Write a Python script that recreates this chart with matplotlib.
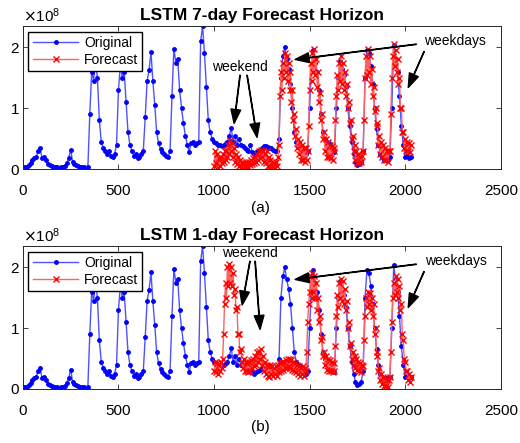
import matplotlib
matplotlib.use("Agg")
import matplotlib.pyplot as plt
import numpy as np
from matplotlib.ticker import ScalarFormatter

plt.rcParams['font.family'] = ['Liberation Sans', 'DejaVu Sans']

# sample spacing of the values below (x units)
orig_step = 10
fc_step = 5

# original traffic, x = 0, 10, ..., 2030  (units of 1e8)
original = [
    0.03, 0.04, 0.03, 0.06, 0.10, 0.15, 0.18, 0.20, 0.30, 0.35,
    0.18, 0.20, 0.15, 0.08, 0.06, 0.05, 0.04, 0.03, 0.03, 0.02,
    0.03, 0.04, 0.05, 0.10, 0.18, 0.32, 0.12, 0.08, 0.06, 0.05,
    0.04, 0.04, 0.03, 0.02, 0.03,
    # 350 - 490
    0.90, 1.60, 1.45, 1.75, 1.50, 0.80, 0.45, 0.35, 0.30, 0.25,
    0.30, 0.22, 0.20, 0.25, 0.40,
    # 500 - 630
    1.30, 1.70, 1.50, 1.60, 1.10, 0.60, 0.40, 0.30, 0.22, 0.25,
    0.18, 0.20, 0.25, 0.30,
    # 640 - 770
    0.85, 1.45, 1.62, 1.92, 1.45, 1.05, 0.60, 0.42, 0.33, 0.28,
    0.25, 0.22, 0.20, 0.30,
    # 780 - 920
    1.20, 1.98, 1.75, 1.80, 1.30, 1.00, 0.75, 0.55, 0.40, 0.28,
    0.42, 0.45, 0.40, 0.42, 0.45,
    # 930 - 1340
    2.10, 2.35, 1.90, 1.35, 0.80, 0.60, 0.50,
    0.45, 0.42, 0.40, 0.40, 0.38, 0.40, 0.42, 0.45, 0.55, 0.67,
    0.45, 0.55, 0.40, 0.50, 0.40, 0.38, 0.35, 0.32, 0.30, 0.40,
    0.28, 0.25, 0.28, 0.30, 0.32, 0.35, 0.38, 0.38, 0.36, 0.35,
    0.35, 0.32, 0.30, 0.30, 0.50,
    # 1350 - 1490
    1.50, 1.85, 2.00, 1.80, 1.65, 1.40, 1.00, 0.60, 0.45, 0.40,
    0.38, 0.35, 0.30, 0.25, 0.30,
    # 1500 - 1630
    1.00, 1.70, 1.95, 1.75, 1.60, 1.30, 0.90, 0.60, 0.50, 0.45,
    0.42, 0.38, 0.30, 0.28,
    # 1640 - 1780
    1.00, 1.50, 1.78, 1.65, 1.55, 1.35, 1.00, 0.70, 0.45, 0.25,
    0.12, 0.07, 0.08, 0.12, 0.30,
    # 1790 - 1920
    1.50, 1.95, 1.90, 1.70, 1.40, 1.00, 0.65, 0.40, 0.25, 0.20,
    0.15, 0.18, 0.15, 0.20,
    # 1930 - 2030
    1.00, 2.03, 1.80, 1.60, 1.20, 0.70, 0.40, 0.20, 0.22, 0.18, 0.20,
]

forecast_start = 1000

# 7-day horizon forecast, x = 1000, 1005, ..., 2030
forecast_7day = [
    # 1000 - 1335
    0.05, 0.30, 0.10, 0.25, 0.02, 0.18, 0.05, 0.20, 0.10, 0.25,
    0.12, 0.30, 0.15, 0.32, 0.20, 0.40, 0.25, 0.48, 0.30, 0.42,
    0.20, 0.35, 0.12, 0.25, 0.08, 0.20, 0.05, 0.15, 0.03, 0.12,
    0.02, 0.10, 0.03, 0.12, 0.05, 0.10, 0.04, 0.12, 0.06, 0.15,
    0.08, 0.18, 0.10, 0.20, 0.12, 0.25, 0.15, 0.30, 0.18, 0.32,
    0.20, 0.30, 0.12, 0.25, 0.10, 0.30, 0.05, 0.20, 0.03, 0.15,
    0.02, 0.12, 0.03, 0.10, 0.02, 0.12, 0.05, 0.20,
    # 1340 - 1495
    0.40, 1.20, 1.60, 1.30, 1.75, 1.50, 1.90, 1.60, 1.85, 1.45,
    1.75, 1.30, 1.60, 1.10, 1.30, 0.80, 0.90, 0.55, 0.65, 0.35,
    0.50, 0.25, 0.45, 0.15, 0.40, 0.15, 0.35, 0.12, 0.35, 0.15,
    0.30, 0.70,
    # 1500 - 1635
    1.30, 1.75, 1.45, 1.90, 1.60, 1.97, 1.55, 1.80, 1.35, 1.60,
    1.10, 1.25, 0.80, 0.90, 0.50, 0.60, 0.30, 0.50, 0.20, 0.45,
    0.20, 0.40, 0.18, 0.38, 0.15, 0.35, 0.30, 0.80,
    # 1640 - 1785
    1.20, 1.55, 1.30, 1.75, 1.45, 1.85, 1.40, 1.75, 1.30, 1.60,
    1.20, 1.40, 1.00, 1.10, 0.75, 0.80, 0.50, 0.55, 0.30, 0.40,
    0.15, 0.30, 0.10, 0.25, 0.10, 0.20, 0.12, 0.22, 0.30, 0.80,
    # 1790 - 1925
    1.50, 1.85, 1.55, 1.98, 1.60, 1.85, 1.40, 1.65, 1.20, 1.35,
    0.95, 1.00, 0.70, 0.75, 0.40, 0.55, 0.25, 0.45, 0.20, 0.40,
    0.15, 0.35, 0.15, 0.30, 0.12, 0.30, 0.30, 0.90,
    # 1930 - 2030
    1.50, 1.85, 2.05, 1.70, 1.95, 1.60, 1.80, 1.40, 1.50, 1.00,
    1.00, 0.60, 0.60, 0.35, 0.50, 0.30, 0.45, 0.30, 0.42, 0.28,
    0.40,
]

# 1-day horizon forecast, x = 1000, 1005, ..., 2030
forecast_1day = [
    # 1000 - 1340
    0.30, 0.45, 0.28, 0.42, 0.25, 0.40, 0.30, 0.45, 0.35, 0.50,
    0.90, 1.40, 1.75, 1.50, 2.00, 1.70, 2.05, 1.75, 2.00, 1.70,
    1.90, 1.55, 1.65, 1.30, 1.35, 0.90, 0.90, 0.60, 0.65, 0.45,
    0.35, 0.50, 0.30, 0.45, 0.30, 0.42, 0.28, 0.45, 0.30, 0.48,
    0.35, 0.50, 0.38, 0.55, 0.40, 0.60, 0.45, 0.62, 0.50, 0.65,
    0.40, 0.55, 0.30, 0.45, 0.25, 0.40, 0.22, 0.38, 0.20, 0.40,
    0.25, 0.38, 0.22, 0.35, 0.25, 0.38, 0.22, 0.40, 0.28,
    # 1345 - 1495
    0.42, 0.30, 0.45, 0.32, 0.45, 0.35, 0.48, 0.35, 0.50, 0.38,
    0.50, 0.35, 0.48, 0.32, 0.45, 0.30, 0.42, 0.28, 0.40, 0.25,
    0.38, 0.22, 0.35, 0.25, 0.38, 0.22, 0.35, 0.30, 0.60, 1.10,
    1.40,
    # 1500 - 1635
    1.60, 1.85, 1.50, 1.90, 1.60, 1.85, 1.50, 1.75, 1.30, 1.50,
    1.10, 1.20, 0.80, 0.85, 0.55, 0.60, 0.40, 0.55, 0.32, 0.50,
    0.30, 0.48, 0.30, 0.45, 0.28, 0.42, 0.30, 0.70,
    # 1640 - 1785
    1.20, 1.55, 1.35, 1.75, 1.50, 1.80, 1.45, 1.78, 1.40, 1.65,
    1.30, 1.45, 1.00, 1.10, 0.70, 0.75, 0.50, 0.60, 0.40, 0.55,
    0.35, 0.50, 0.32, 0.45, 0.30, 0.42, 0.28, 0.40, 0.38, 0.80,
    # 1790 - 1925
    1.20, 1.50, 1.35, 1.60, 1.40, 1.58, 1.30, 1.50, 1.20, 1.40,
    0.90, 1.00, 0.55, 0.60, 0.30, 0.35, 0.15, 0.25, 0.08, 0.20,
    0.05, 0.18, 0.05, 0.15, 0.03, 0.15, 0.20, 0.60,
    # 1930 - 2030
    1.10, 1.50, 1.75, 1.55, 1.85, 1.60, 1.80, 1.50, 1.70, 1.30,
    1.40, 0.90, 0.80, 0.50, 0.45, 0.30, 0.30, 0.15, 0.25, 0.12,
    0.20,
]

titles = ['LSTM 7-day Forecast Horizon', 'LSTM 1-day Forecast Horizon']
panel_labels = ['(a)', '(b)']
x_ticks = [0, 500, 1000, 1500, 2000, 2500]
y_ticks = [0, 1e8, 2e8]

x_orig = np.arange(len(original)) * orig_step
y_orig = np.array(original) * 1e8

fig = plt.figure(figsize=(5.2, 4.43), dpi=100)
ax_top = fig.add_axes([0.044, 0.6185, 0.919, 0.3228])
ax_bot = fig.add_axes([0.044, 0.1219, 0.919, 0.3228])

axc = '#262626'
for ax, fc, title in zip([ax_top, ax_bot], [forecast_7day, forecast_1day], titles):
    x_fc = forecast_start + np.arange(len(fc)) * fc_step
    ax.plot(x_orig, y_orig, '-', color='#5050ff', lw=1.0, marker='.',
            ms=5, mfc='b', mec='b', label='Original')
    ax.plot(x_fc, np.array(fc) * 1e8, '-', color='#ff6060', lw=1.0,
            marker='x', ms=5, mec='r', mew=1.0, label='Forecast')
    ax.set_xlim(0, 2500)
    ax.set_ylim(0, 2.35e8)
    ax.set_xticks(x_ticks)
    ax.set_yticks(y_ticks)
    fmt = ScalarFormatter(useMathText=True)
    fmt.set_powerlimits((0, 0))
    ax.yaxis.set_major_formatter(fmt)
    ax.yaxis.get_offset_text().set_fontsize(11)
    ax.tick_params(direction='in', length=3.5, width=0.6, color=axc,
                   labelsize=11, top=True, right=True)
    ax.tick_params(axis='x', pad=11)
    ax.tick_params(axis='y', pad=2)
    for s in ax.spines.values():
        s.set_color(axc)
        s.set_linewidth(0.7)
    ax.set_title(title, fontsize=12.5, fontweight='bold', pad=4)
    ax.legend(loc='upper left', fontsize=10, fancybox=False, edgecolor='k',
              framealpha=1, handlelength=3.3, borderpad=0.3, labelspacing=0.25,
              handletextpad=0.4, borderaxespad=0.4)

arrow = dict(facecolor='k', edgecolor='k', width=0.3, headwidth=7,
             headlength=10, shrink=0)

# top panel annotations
ax_top.text(1136, 1.67e8, 'weekend', fontsize=10, ha='center', va='center')
ax_top.annotate('', xy=(1105, 0.75e8), xytext=(1136, 1.54e8), arrowprops=arrow)
ax_top.annotate('', xy=(1225, 0.52e8), xytext=(1173, 1.54e8), arrowprops=arrow)
ax_top.text(2262, 2.10e8, 'weekdays', fontsize=10, ha='center', va='center')
ax_top.annotate('', xy=(1424, 1.80e8), xytext=(2058, 2.05e8), arrowprops=arrow)
ax_top.annotate('', xy=(2016, 1.34e8), xytext=(2099, 1.93e8), arrowprops=arrow)

# bottom panel annotations
ax_bot.text(1188, 2.23e8, 'weekend', fontsize=10, ha='center', va='center')
ax_bot.annotate('', xy=(1147, 1.38e8), xytext=(1188, 2.10e8), arrowprops=arrow)
ax_bot.annotate('', xy=(1241, 0.98e8), xytext=(1215, 2.10e8), arrowprops=arrow)
ax_bot.text(2267, 2.11e8, 'weekdays', fontsize=10, ha='center', va='center')
ax_bot.annotate('', xy=(1424, 1.80e8), xytext=(2058, 2.05e8), arrowprops=arrow)
ax_bot.annotate('', xy=(2016, 1.34e8), xytext=(2099, 1.93e8), arrowprops=arrow)

fig.text(0.5, 1 - 208 / 443, panel_labels[0], ha='center', va='center', fontsize=11)
fig.text(0.5, 1 - 427 / 443, panel_labels[1], ha='center', va='center', fontsize=11)

fig.savefig('out.png', dpi=100)
